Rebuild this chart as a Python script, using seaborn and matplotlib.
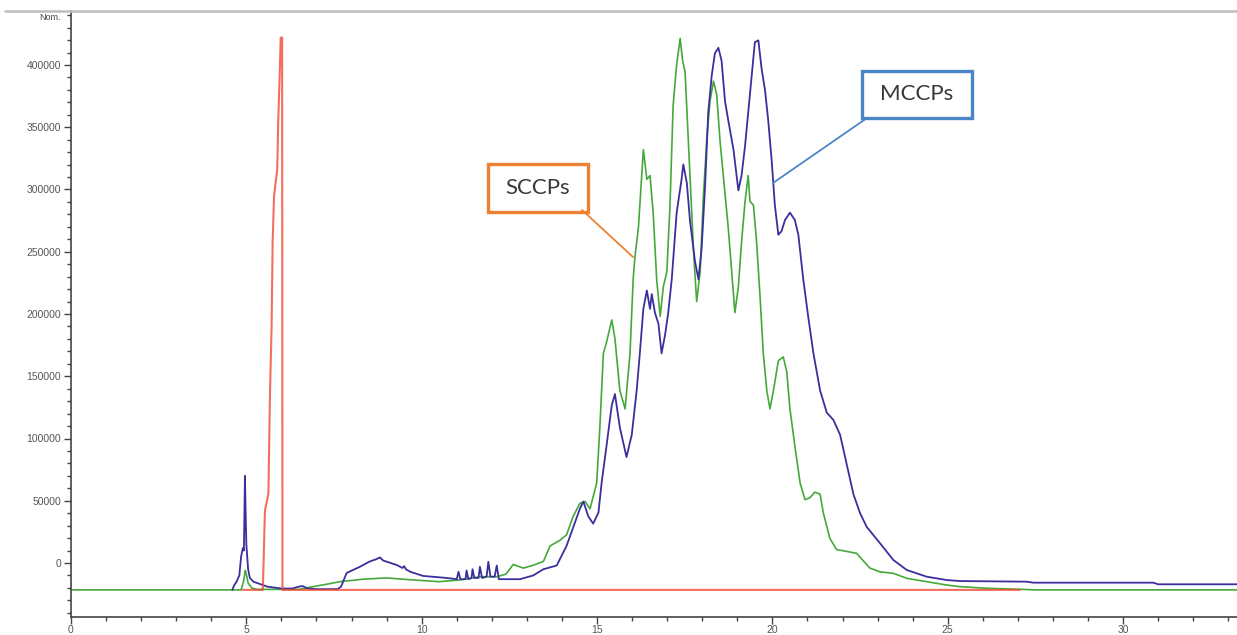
import numpy as np
import pandas as pd
import matplotlib
matplotlib.use("Agg")
import matplotlib.pyplot as plt
from matplotlib.lines import Line2D
from matplotlib.patches import Rectangle
from matplotlib.ticker import MultipleLocator
import seaborn as sns

# ---------------- data (retention time in min, intensity in thousands of counts) ----------------
sccp_time = [0, 4.85, 4.92, 4.97, 5.0, 5.05, 5.15, 5.3, 6.5, 6.9, 7.3, 7.67, 8.33, 9.0, 9.75, 10.5,
             11.1, 11.66, 12.14, 12.4, 12.61, 12.9, 13.18, 13.47, 13.66, 13.94, 14.13, 14.32, 14.51,
             14.66, 14.80, 14.99, 15.08, 15.18, 15.27, 15.42, 15.51, 15.65, 15.80, 15.94, 16.03, 16.08,
             16.18, 16.32, 16.42, 16.51, 16.60, 16.70, 16.80, 16.89, 16.99, 17.08, 17.17, 17.27, 17.37,
             17.44, 17.51, 17.65, 17.75, 17.84, 17.94, 18.03, 18.13, 18.22, 18.32, 18.41, 18.51, 18.60,
             18.74, 18.84, 18.93, 19.03, 19.12, 19.22, 19.31, 19.36, 19.46, 19.55, 19.65, 19.74, 19.84,
             19.93, 20.03, 20.17, 20.31, 20.41, 20.50, 20.64, 20.79, 20.93, 21.07, 21.21, 21.36, 21.45,
             21.64, 21.83, 22.12, 22.40, 22.59, 22.78, 23.07, 23.45, 23.83, 24.4, 24.97, 25.35, 26.1,
             27.06, 27.5, 33.3]
sccp_int = [-21.6, -21.6, -15, -6, -9, -16, -20, -21.2, -21.2, -19, -17, -15, -13, -12, -13.6, -15,
            -13.6, -11, -11, -9, -1.2, -4.1, -1.8, 1.2, 13.7, 18.2, 22.6, 37.5, 47.9,
            49.4, 43.5, 64.3, 108.9, 168.4, 177.3, 195.2, 180.3, 138.6, 123.8, 168.4, 227.9, 245.8,
            269.6, 332, 308.2, 311.2, 281.4, 227.9, 198.1, 221.9, 233.8, 287.4, 367.7, 400.5, 421.3,
            403.5, 394.5, 311.2, 251.7, 210, 233.8, 293.3, 341, 370.7, 387, 376.6, 338, 311.2,
            269.6, 233.8, 201.1, 222, 257.7, 290.4, 311.2, 290.4, 287.4, 257.7, 213, 168.4, 138.6,
            123.8, 138.6, 162.5, 165.5, 153.5, 123.8, 94.1, 64.3, 50.9, 52.4, 56.9, 55.3, 40.5,
            19.7, 10.8, 9.3, 7.8, 1.8, -4.1, -7.1, -8.3, -12.3, -15, -17.7, -19, -20.3,
            -21.1, -21.6, -21.6]

mccp_time = [4.6, 4.65, 4.72, 4.8, 4.85, 4.9, 4.93, 4.96, 4.98, 5.0, 5.05, 5.1, 5.2, 5.4, 5.6, 6.0,
             6.3, 6.5, 6.6, 6.75, 7.0, 7.6, 7.7, 7.86, 8.24, 8.5, 8.7, 8.81, 8.9, 9.29, 9.45, 9.5, 9.55,
             9.67, 10.04, 10.71, 11.0, 11.05, 11.1, 11.25, 11.28, 11.33, 11.42, 11.45, 11.5, 11.62,
             11.66, 11.72, 11.85, 11.9, 11.96, 12.08, 12.14, 12.2, 12.5, 12.8, 13.18, 13.47, 13.85,
             14.13, 14.32, 14.51, 14.61, 14.75, 14.89, 15.04, 15.13, 15.27, 15.42, 15.51, 15.65, 15.84,
             15.99, 16.13, 16.22, 16.32, 16.42, 16.51, 16.56, 16.65, 16.75, 16.84, 16.94, 17.03, 17.13,
             17.27, 17.41, 17.46, 17.56, 17.65, 17.79, 17.89, 17.98, 18.08, 18.17, 18.27, 18.36, 18.46,
             18.55, 18.65, 18.74, 18.89, 19.03, 19.12, 19.22, 19.31, 19.41, 19.50, 19.60, 19.69, 19.79,
             19.88, 19.98, 20.07, 20.17, 20.26, 20.36, 20.50, 20.64, 20.74, 20.88, 21.02, 21.17, 21.36,
             21.55, 21.74, 21.93, 22.12, 22.31, 22.5, 22.69, 23.07, 23.45, 23.83, 24.4, 24.97, 25.35,
             27.25, 27.44, 30.86, 31.0, 33.3]
mccp_int = [-21.6, -18, -15, -10, 5, 12, 10, 70, 40, 15, -5, -12, -15, -17, -19, -20.5,
            -20.5, -19, -18.5, -20.5, -21, -21, -19, -8, -3, 1, 3, 4.5, 2, -1.6, -4, -2.5, -5,
            -7, -10.4, -12, -13, -7, -13, -13, -6, -13, -12, -5, -12, -12,
            -3, -12, -11, 1, -11, -11, -2, -13, -13, -13, -10, -5, -2,
            13.7, 28.6, 43.5, 49.4, 37.5, 31.6, 40.5, 64.3, 94.1, 126.8, 135.7, 108.9, 85.1,
            103, 138.6, 168.4, 204.1, 218.9, 204.1, 216, 201.1, 192.2, 168.4, 183.3, 201.1, 227.9,
            281.4, 308.2, 320.1, 305.3, 275, 242.8, 227.9, 251.7, 302.3, 361.8, 391.5, 409.4, 413.8,
            403.5, 370.7, 355.8, 332, 299.3, 311.2, 335, 361.8, 391.5, 418.3, 419.8, 397.5, 379.6,
            355.8, 323.1, 287.4, 263.6, 266.6, 275.5, 281.4, 275.5, 263.6, 227.9, 198.1, 168.4, 138.6,
            120.8, 114.9, 103, 79.2, 55.3, 40, 29, 15.8, 2.4, -5.6, -11, -13.7, -14.5,
            -15, -15.8, -15.8, -17.1, -17.1]

std_time = [4.9, 5.47, 5.53, 5.63, 5.67, 5.72, 5.75, 5.79, 5.88, 5.91, 5.96, 5.98, 6.02, 6.03, 27.06]
std_int = [-21.6, -21.6, 42, 56, 131, 190, 258, 295, 316, 356, 401, 422, 422, -21.6, -21.6]

x_ticks = [0, 5, 10, 15, 20, 25, 30]
y_ticks = [0, 50000, 100000, 150000, 200000, 250000, 300000, 350000, 400000]
labels = ["SCCPs", "MCCPs"]

# ---------------- figure ----------------
W, H = 1237, 635
sns.set_style("white")
plt.rcParams["font.family"] = ["Liberation Sans", "DejaVu Sans"]
fig = plt.figure(figsize=(W / 100, H / 100), dpi=100)
fig.patch.set_facecolor("white")

left_px, right_px, top_px, bot_px = 71, 1237, 11, 617
ax = fig.add_axes([left_px / W, 1 - bot_px / H, (right_px - left_px) / W, (bot_px - top_px) / H])
ax.set_facecolor("white")

green = "#45a83a"
blue = "#3a2f9c"
red = "#f24a36"

sccp = pd.DataFrame({"t": sccp_time, "v": np.array(sccp_int) * 1000})
mccp = pd.DataFrame({"t": mccp_time, "v": np.array(mccp_int) * 1000})
std = pd.DataFrame({"t": std_time, "v": np.array(std_int) * 1000})

sns.lineplot(data=sccp, x="t", y="v", ax=ax, color=green, lw=1.2, sort=False, estimator=None)
sns.lineplot(data=mccp, x="t", y="v", ax=ax, color=blue, lw=1.3, sort=False, estimator=None)
sns.lineplot(data=std, x="t", y="v", ax=ax, color=red, lw=1.5, sort=False, estimator=None, alpha=0.8)

ax.set_xlim(0, (right_px - left_px) / 35.07)
ymin = (563 - bot_px) / 1.245 * 1000
ymax = (563 - top_px) / 1.245 * 1000
ax.set_ylim(ymin, ymax)

ax.set_xlabel("")
ax.set_ylabel("")
ax.set_xticks(x_ticks)
ax.set_xticklabels([str(v) for v in x_ticks])
ax.set_yticks(y_ticks)
ax.set_yticklabels([str(v) for v in y_ticks])
ax.xaxis.set_minor_locator(MultipleLocator(1))
ax.yaxis.set_minor_locator(MultipleLocator(10000))
ax.tick_params(axis="both", which="major", direction="out", length=5, width=1.0,
               color="#444444", labelsize=7.5, labelcolor="#555555", pad=2)
ax.tick_params(axis="x", which="major", pad=1)
ax.tick_params(axis="both", which="minor", direction="out", length=3, width=1.0, color="#444444")
ax.tick_params(axis="x", which="both", bottom=True)
ax.tick_params(axis="y", which="both", left=True)

for s in ["top", "right"]:
    ax.spines[s].set_visible(False)
for s in ["left", "bottom"]:
    ax.spines[s].set_color("#444444")
    ax.spines[s].set_linewidth(1.2)

# top border line across the figure
fig.add_artist(Line2D([5 / W, 1.0], [1 - top_px / H, 1 - top_px / H], color="#bdbdbd", lw=1.8,
                      transform=fig.transFigure))

# unit label at top of y axis
fig.text(61 / W, 1 - 17 / H, "Nom.", ha="right", va="center", fontsize=6.5, color="#444444")

# ---------------- annotation boxes ----------------
def px_box(x0, y0, x1, y1, edge, text, lx0, ly0, lx1, ly1):
    fig.add_artist(Line2D([lx0 / W, lx1 / W], [1 - ly0 / H, 1 - ly1 / H], color=edge, lw=1.3,
                          transform=fig.transFigure))
    fig.add_artist(Rectangle((x0 / W, 1 - y1 / H), (x1 - x0) / W, (y1 - y0) / H,
                             transform=fig.transFigure, facecolor="white", edgecolor=edge, lw=2.4))
    fig.text((x0 + x1) / 2 / W, 1 - (y0 + y1) / 2 / H, text, ha="center", va="center",
             fontsize=16, color="#3a3a3a", family=["Lato", "DejaVu Sans"])

px_box(488, 164, 588, 212, "#ee8034", labels[0], 582, 210, 633, 257)
px_box(862, 71, 972, 118, "#4a86c6", labels[1], 867, 118, 773, 183)

fig.savefig("out.png", dpi=100, facecolor="white")
